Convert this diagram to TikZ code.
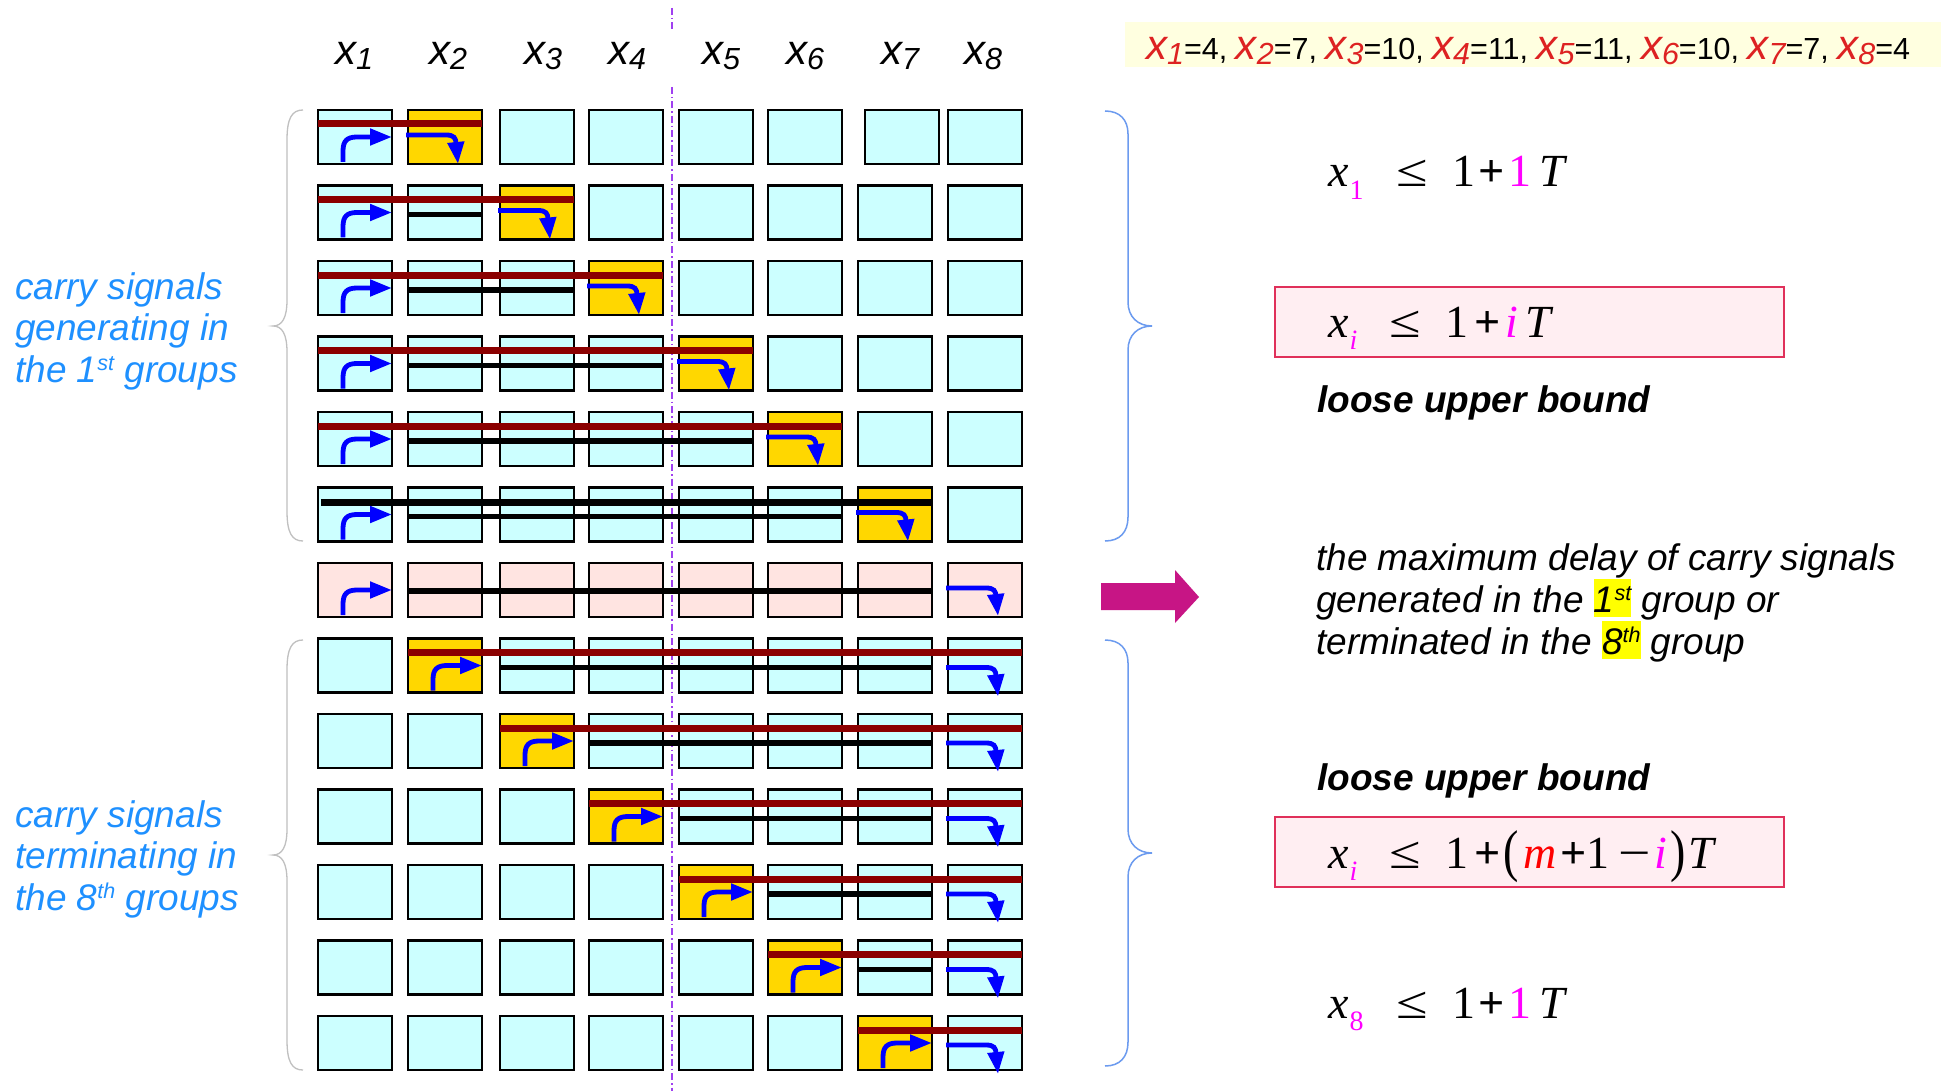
\documentclass[tikz,border=0pt]{standalone}
\usepackage{graphicx}
\usepackage{fontspec}
\setmainfont{Liberation Sans}
\newfontfamily\eqfont{Liberation Serif}
\usetikzlibrary{arrows.meta}

\definecolor{cellcyan}{HTML}{CCFFFF}
\definecolor{cellgold}{HTML}{FFD700}
\definecolor{cellpink}{HTML}{FFE4E1}
\definecolor{carryred}{HTML}{8B0000}
\definecolor{sigblue}{HTML}{0000FF}
\definecolor{noteblue}{HTML}{1E90FF}
\definecolor{guidecol}{HTML}{A040F0}
\definecolor{valred}{HTML}{DD2222}
\definecolor{boundmag}{HTML}{FF00FF}
\definecolor{bracegray}{HTML}{C0C0C0}
\definecolor{braceblue}{HTML}{6C9BEF}
\definecolor{bigarrow}{HTML}{C71585}
\definecolor{eqfill}{HTML}{FFEEF2}
\definecolor{eqline}{HTML}{E0305A}
\definecolor{valfill}{HTML}{FFFFE0}
\definecolor{hl}{HTML}{FFFF00}

% variable with its index, sans italic
\newcommand\xsub[1]{{\fontsize{42}{42}\selectfont\itshape x}\raisebox{-5pt}{\fontsize{30.5}{30.5}\selectfont\itshape #1}}
\newcommand\vx[1]{\textcolor{valred}{\xsub{#1}}}
% superscript in 37pt text
\newcommand\sups[1]{\raisebox{12pt}{\fontsize{21.5}{21.5}\selectfont #1}}
% highlighted ordinal
\newcommand\hlite[1]{{\setlength\fboxsep{0pt}\colorbox{hl}{\rule[-5pt]{0pt}{38pt}#1}}}
% serif variable with magenta index
\newcommand\eqx[1]{\textit{x}\hspace{1pt}\raisebox{-12.5pt}{\fontsize{28}{28}\selectfont\textcolor{boundmag}{#1}}}
\newcommand\tallpar[1]{\raisebox{-2pt}{\scalebox{1}[1.25]{#1}}}
\newcommand\wide[1]{\scalebox{1.25}[1]{#1}}

\tikzset{
  cell/.style={draw=black, line width=2.6pt, minimum width=74pt, minimum height=54pt,
               anchor=north west, inner sep=0pt, outer sep=0pt},
  carry/.style={draw=carryred, line width=7pt},
  chain/.style={draw=black, line width=5.5pt},
  sig/.style={draw=sigblue, line width=4.8pt, -{Triangle[length=22pt,width=16pt]}},
  guide/.style={draw=guidecol, line width=1.3pt, dash pattern=on 7pt off 3pt on 1.5pt off 3pt},
  headlbl/.style={anchor=base, inner sep=0pt},
  notetxt/.style={anchor=base west, inner sep=0pt, text=noteblue,
                  font=\fontsize{37}{41.5}\selectfont\itshape},
  bodytxt/.style={anchor=base west, inner sep=0pt,
                  font=\fontsize{37}{41.5}\selectfont\itshape},
  boldtxt/.style={anchor=base west, inner sep=0pt,
                  font=\fontsize{37}{41.5}\selectfont\bfseries\itshape},
  eqtext/.style={anchor=base west, inner sep=0pt,
                 font=\eqfont\fontsize{46}{50}\selectfont},
  eqbox/.style={draw=eqline, fill=eqfill, line width=1.5pt},
  leftbrace/.style={draw=bracegray, line width=1.3pt},
  rightbrace/.style={draw=braceblue, line width=1.5pt},
}

% carry generated: up from the bottom, then to the right
\newcommand\UpTurn[1]{%
  \draw[sig] ([shift={(25pt,-52pt)}]#1.north west) -- ([shift={(25pt,-41pt)}]#1.north west)
    .. controls ([shift={(25pt,-31pt)}]#1.north west) and ([shift={(29pt,-27pt)}]#1.north west)
    .. ([shift={(39pt,-27pt)}]#1.north west) -- ([shift={(74pt,-27pt)}]#1.north west);}
% carry terminated: from the left, then down; #2 = level of the run, #3 = depth of the tip
\newcommand\DownTurn[3]{%
  \draw[sig] ([shift={(-2pt,-#2pt)}]#1.north west) -- ([shift={(38pt,-#2pt)}]#1.north west)
    .. controls ([shift={(46pt,-#2pt)}]#1.north west) and ([shift={(48pt,-#2pt)},yshift=-3pt]#1.north west)
    .. ([shift={(48pt,-#2pt)},yshift=-9pt]#1.north west) -- ([shift={(50pt,-#3pt)}]#1.north west);}

\begin{document}
\begin{tikzpicture}[x=1pt,y=-1pt]
\fill[white] (0,0) rectangle (1942,1091);
\useasboundingbox (0,0) rectangle (1942,1091);

% group boundary between x4 and x5
\draw[guide] (672,8) -- (672,30);
\draw[guide] (672,87) -- (672,1091);

% column headers
\foreach \i/\xc in {1/354,2/448,3/543,4/627,5/721,6/805,7/900,8/983}
  \node[headlbl] (h\i) at (\xc,65) {\xsub{\i}};

% the grid of groups
\foreach \r in {0,...,12}{
  \foreach \cc/\xc in {0/318,1/408,2/500,3/589,4/679,5/768,6/858,7/948}{
    \pgfmathtruncatemacro\gold{and(\r<6,\cc==\r+1)+and(\r>6,\cc==\r-6)}
    \pgfmathsetmacro\xx{and(\r==0,\cc==6) ? 865 : \xc}
    \ifnum\r=6 \def\cf{cellpink}\else\ifnum\gold=1 \def\cf{cellgold}\else\def\cf{cellcyan}\fi\fi
    \node[cell, fill=\cf] (b-\r-\cc) at (\xx,{110+75.5*\r}) {};
  }
}

% carries generated in the 1st group
\foreach \r in {0,...,4}{
  \pgfmathtruncatemacro\g{\r+1}
  \draw[carry] ([yshift=-14pt]b-\r-0.north west) -- ([yshift=-14pt]b-\r-\g.north east);
}
\draw[chain, line width=6.5pt] ([shift={(3pt,-15pt)}]b-5-0.north west) -- ([yshift=-15pt]b-5-6.north east);
\foreach \r in {1,...,5}
  \draw[chain] ([yshift=-29pt]b-\r-1.north west) -- ([yshift=-29pt]b-\r-\r.north east);
\foreach \r in {0,...,5}{
  \pgfmathtruncatemacro\g{\r+1}
  \UpTurn{b-\r-0}
  \DownTurn{b-\r-\g}{25}{54}
}

% through the whole chain
\draw[chain] ([yshift=-28pt]b-6-1.north west) -- ([yshift=-28pt]b-6-6.north east);
\UpTurn{b-6-0}
\DownTurn{b-6-7}{25}{53}

% carries terminated in the 8th group
\foreach \r in {7,...,12}{
  \pgfmathtruncatemacro\g{\r-6}
  \draw[carry] ([yshift=-14pt]b-\r-\g.north west) -- ([yshift=-14pt]b-\r-7.north east);
}
\foreach \r in {7,...,11}{
  \pgfmathtruncatemacro\g{\r-5}
  \draw[chain] ([yshift=-29pt]b-\r-\g.north west) -- ([yshift=-29pt]b-\r-6.north east);
}
\foreach \r in {7,...,12}{
  \pgfmathtruncatemacro\g{\r-6}
  \UpTurn{b-\r-\g}
  \DownTurn{b-\r-7}{29}{58}
}

% left braces
\draw[leftbrace] (303,110) .. controls (292,110) and (287,118) .. (287,140) -- (287,300)
  .. controls (287,318) and (282,326) .. (273,326) .. controls (282,326) and (287,334) .. (287,352)
  -- (287,511) .. controls (287,533) and (292,541) .. (303,541);
\draw[leftbrace] (303,640) .. controls (292,640) and (287,648) .. (287,670) -- (287,829)
  .. controls (287,847) and (282,855) .. (273,855) .. controls (282,855) and (287,863) .. (287,881)
  -- (287,1040) .. controls (287,1062) and (292,1070) .. (303,1070);

% left notes
\node[notetxt] (gen-a) at (15,299) {carry signals};
\node[notetxt] (gen-b) at (15,340.5) {generating in};
\node[notetxt] (gen-c) at (15,382) {the 1\sups{st} groups};
\node[notetxt] (term-a) at (15,827) {carry signals};
\node[notetxt] (term-b) at (15,868.5) {terminating in};
\node[notetxt] (term-c) at (15,910) {the 8\sups{th} groups};

% right braces
\draw[rightbrace] (1105,111) .. controls (1120,111) and (1128,120) .. (1128,134) -- (1128,302)
  .. controls (1128,317) and (1138,326) .. (1152,326) .. controls (1138,326) and (1128,335) .. (1128,350)
  -- (1128,517) .. controls (1128,532) and (1120,541) .. (1105,541);
\draw[rightbrace] (1105,640) .. controls (1120,640) and (1128,649) .. (1128,663) -- (1128,829)
  .. controls (1128,844) and (1138,853) .. (1152,853) .. controls (1138,853) and (1128,862) .. (1128,877)
  -- (1128,1042) .. controls (1128,1057) and (1120,1066) .. (1105,1066);

% big arrow
\fill[bigarrow] (1101,583) -- (1175,583) -- (1175,570) -- (1199,597) -- (1175,623)
  -- (1175,610) -- (1101,610) -- cycle;

% group sizes
\fill[valfill] (1125,22) rectangle (1941,67);
\node[anchor=base west, inner sep=0pt, font=\fontsize{30.5}{34}\selectfont] (vals) at (1146,60)
  {\vx{1}=4, \vx{2}=7, \vx{3}=10, \vx{4}=11, \vx{5}=11, \vx{6}=10, \vx{7}=7, \vx{8}=4};

% bounds
\node[eqtext] (eq-first) at (1328,187)
  {\eqx{1}\hspace{33pt}\wide{≤}\hspace{24pt}1\hspace{3pt}\textbf{+}\hspace{4pt}\textcolor{boundmag}{1}\hspace{8pt}\textit{T}};
\draw[eqbox] (1275,287) rectangle (1784,357);
\node[eqtext] (eq-gen) at (1328,337)
  {\eqx{\textit{i}}\hspace{32pt}\wide{≤}\hspace{25pt}1\hspace{5.5pt}\textbf{+}\hspace{5pt}\textcolor{boundmag}{\textit{i}}\hspace{7pt}\textit{T}};
\node[boldtxt] (loose-a) at (1317,412) {loose upper bound};

\node[bodytxt] (delay-a) at (1316,570) {the maximum delay of carry signals};
\node[bodytxt] (delay-b) at (1316,612) {generated in the \hlite{1\sups{st}} group or};
\node[bodytxt] (delay-c) at (1316,654) {terminated in the \hlite{8\sups{th}} group};

\node[boldtxt] (loose-b) at (1317,790) {loose upper bound};
\draw[eqbox] (1275,817) rectangle (1784,887);
\node[eqtext] (eq-term) at (1328,868)
  {\eqx{\textit{i}}\hspace{32pt}\wide{≤}\hspace{25pt}1\hspace{5.5pt}\textbf{+}\hspace{3pt}\tallpar{(}\hspace{4pt}\textcolor{red}{\textit{m}}\hspace{4.3pt}\textbf{+}1\hspace{9pt}\wide{−}\hspace{3pt}\textcolor{boundmag}{\textit{i}}\hspace{3.7pt}\tallpar{)}\hspace{3pt}\textit{T}};
\node[eqtext] (eq-last) at (1328,1018)
  {\eqx{8}\hspace{33pt}\wide{≤}\hspace{24pt}1\hspace{3pt}\textbf{+}\hspace{4pt}\textcolor{boundmag}{1}\hspace{8pt}\textit{T}};
\end{tikzpicture}
\end{document}
